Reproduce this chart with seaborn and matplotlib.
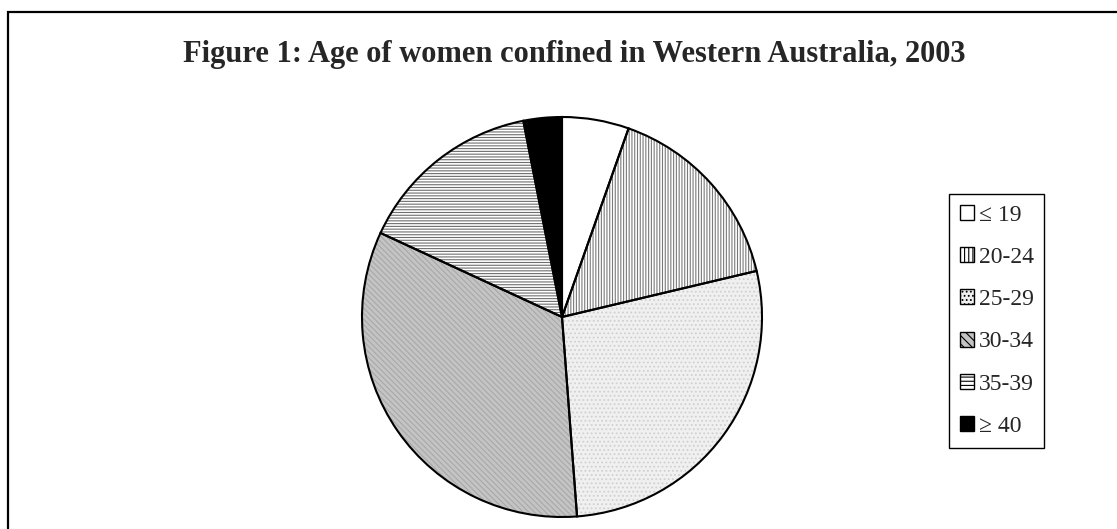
import matplotlib
matplotlib.use("Agg")
import matplotlib.pyplot as plt
from matplotlib.patches import Patch, Rectangle
import seaborn as sns

# Age distribution of women confined (percent of confinements)
age_groups = ["\u2264 19", "20-24", "25-29", "30-34", "35-39", "\u2265 40"]
shares = [5.4, 15.9, 27.5, 33.1, 15.0, 3.1]
title = "Figure 1: Age of women confined in Western Australia, 2003"

sns.set_theme(style="white")
plt.rcParams["font.family"] = ["Liberation Serif", "DejaVu Serif"]
plt.rcParams["hatch.linewidth"] = 0.8

# fill / hatch styling per age group
faces = ["white", "white", "#f0f0f0", "#c4c4c4", "white", "black"]
hatch_cols = ["white", "#7a7a7a", "#d0d0d0", "#a8a8a8", "#6e6e6e", "black"]
hatches = [None, "||||||", "....", "\\\\\\\\\\\\", "------", None]

W, H = 1117, 529
fig = plt.figure(figsize=(W / 100, H / 100), dpi=100)
fig.patch.set_facecolor("white")

# outer frame (left and top edges visible)
fig.patches.append(Rectangle((8 / W, -0.1), 1.2, 1.1 - 12 / H,
                             transform=fig.transFigure, fill=False,
                             edgecolor="black", linewidth=1.6))

cx, cy, r = 562, 317, 200
pad = 1.05
ax = fig.add_axes([(cx - r * pad) / W, (H - cy - r * pad) / H,
                   2 * r * pad / W, 2 * r * pad / H])

# hatched fills
wedges, _ = ax.pie(shares, startangle=90, counterclock=False, radius=1,
                   colors=faces, wedgeprops=dict(linewidth=0))
for w, hc, hp in zip(wedges, hatch_cols, hatches):
    w.set_edgecolor(hc)
    if hp:
        w.set_hatch(hp)

# black outlines
ax.pie(shares, startangle=90, counterclock=False, radius=1,
       colors=["none"] * len(shares),
       wedgeprops=dict(linewidth=1.5, edgecolor="black", fill=False))
ax.set_xlim(-pad, pad)
ax.set_ylim(-pad, pad)
ax.set_aspect("equal")
ax.axis("off")

fig.text(574 / W, 1 - 62 / H, title, ha="center", va="baseline",
         fontsize=22, fontweight="bold")

handles = [Patch(facecolor=f, edgecolor="black", hatch=hp, linewidth=1.0)
           for f, hp in zip(faces, [None, "||||", "....", "\\\\\\\\", "----", None])]
leg = fig.legend(handles, age_groups, loc="upper left",
                 bbox_to_anchor=(949 / W, 1 - 194 / H),
                 fontsize=17, frameon=True, fancybox=False, framealpha=1,
                 edgecolor="black", handlelength=0.6, handleheight=0.6,
                 handletextpad=0.2, labelspacing=0.9, borderpad=0.45,
                 borderaxespad=0)
leg.get_frame().set_linewidth(1.0)

fig.savefig("out.png", dpi=100)
